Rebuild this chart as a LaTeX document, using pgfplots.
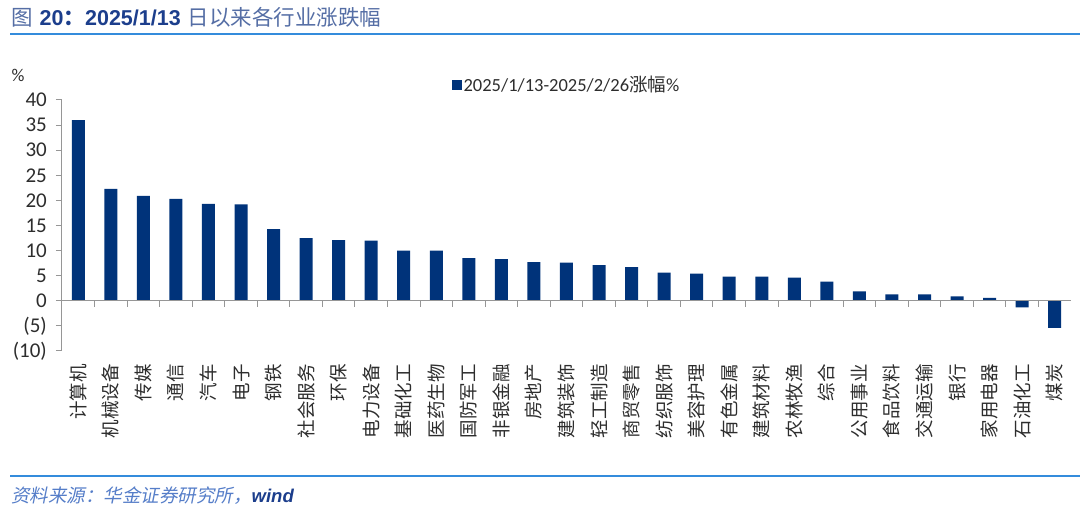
\documentclass[border=0pt]{standalone}
\usepackage{pgfplots}
\pgfplotsset{compat=1.18}
\usepackage{pgfplotstable}
\usepackage{fontspec}
\setmainfont{Carlito}
\newfontfamily\cjk{Noto Sans CJK SC}
\newfontfamily\cjkit[FakeSlant=0.2]{Noto Sans CJK SC}
\newfontfamily\arial{Liberation Sans}

\definecolor{barblue}{RGB}{0,51,122}
\definecolor{titleblue}{RGB}{28,62,140}
\definecolor{titlelight}{RGB}{85,110,165}
\definecolor{lineblue}{RGB}{52,140,220}
\definecolor{srcblue}{RGB}{85,125,200}
\definecolor{axisgray}{RGB}{150,150,150}
\definecolor{labelgray}{RGB}{45,45,45}

% 2025/1/13-2025/2/26 涨幅 (%)
\pgfplotstableread{
x y
0 36.0
1 22.3
2 20.9
3 20.3
4 19.3
5 19.2
6 14.3
7 12.5
8 12.1
9 12.0
10 10.0
11 10.0
12 8.5
13 8.3
14 7.7
15 7.6
16 7.1
17 6.7
18 5.6
19 5.4
20 4.8
21 4.8
22 4.6
23 3.8
24 1.9
25 1.3
26 1.3
27 0.9
28 0.6
29 -1.3
30 -5.4
}\data

\begin{document}
\begin{tikzpicture}
\path[use as bounding box] (0,0) rectangle (1080pt,513pt);

% title and rules
\node[anchor=west, inner sep=0pt] at (11pt,496pt)
  {\fontsize{21.5}{21.5}\selectfont{\cjk\color{titlelight}图}\hspace{7pt}{\arial\bfseries\color{titleblue}20{\cjk ：}2025/1/13}\hspace{7pt}{\cjk\color{titlelight}日以来各行业涨跌幅}};
\draw[lineblue, line width=2pt] (10pt,479pt) -- (1080pt,479pt);
\draw[lineblue, line width=1.5pt] (10pt,37pt) -- (1080pt,37pt);
\node[anchor=west, inner sep=0pt] at (11pt,17pt)
  {\fontsize{18.5}{18.5}\selectfont{\cjkit\color{srcblue}资料来源：华金证券研究所，}{\arial\bfseries\itshape\color{titleblue}wind}};

\node[anchor=center, inner sep=0pt, text=labelgray] at (18pt,438pt) {\fontsize{18}{18}\selectfont\%};

\begin{axis}[
    at={(62pt,162pt)}, anchor=south west,
    scale only axis,
    width=1009pt, height=251pt,
    ybar, bar width=13pt,
    xmin=-0.5, xmax=30.5,
    ymin=-10, ymax=40,
    axis y line*=left, axis x line*=bottom,
    x axis line style={draw=none},
    y axis line style={draw=axisgray, line width=1pt},
    xtick=data,
    xticklabels={计算机,机械设备,传媒,通信,汽车,电子,钢铁,社会服务,环保,电力设备,基础化工,医药生物,国防军工,非银金融,房地产,建筑装饰,轻工制造,商贸零售,纺织服饰,美容护理,有色金属,建筑材料,农林牧渔,综合,公用事业,食品饮料,交通运输,银行,家用电器,石油化工,煤炭},
    xtick style={draw=none},
    xticklabel style={font=\cjk\fontsize{18.5}{18.5}\selectfont, rotate=90, anchor=east, text=labelgray, inner sep=0pt},
    xticklabel shift=7pt,
    ytick={-10,-5,0,5,10,15,20,25,30,35,40},
    yticklabels={(10),(5),0,5,10,15,20,25,30,35,40},
    ytick style={draw=axisgray, line width=1pt},
    tick align=outside,
    major tick length=6pt,
    yticklabel style={font=\fontsize{21}{21}\selectfont, text=labelgray, inner sep=0pt},
    yticklabel shift=9pt,
    /pgf/number format/assume math mode=true,
    legend style={at={(0.5,1.06)}, anchor=center, draw=none, fill=none,
      font=\fontsize{18.5}{18.5}\selectfont, text=labelgray},
    legend image code/.code={\fill[barblue] (0pt,-5pt) rectangle (10pt,5pt);},
    clip=false,
]
\addplot[fill=barblue, draw=none] table[x=x, y=y] {\data};
\addlegendentry{2025/1/13-2025/2/26{\cjk 涨幅}\%}
\draw[axisgray, line width=1pt] (axis cs:-0.5,0) -- (axis cs:30.5,0);
\pgfplotsinvokeforeach{0,...,29}{
  \draw[axisgray, line width=1pt] (axis cs:#1+0.5,0) -- ++(0pt,-6pt);
}
\end{axis}
\end{tikzpicture}
\end{document}
